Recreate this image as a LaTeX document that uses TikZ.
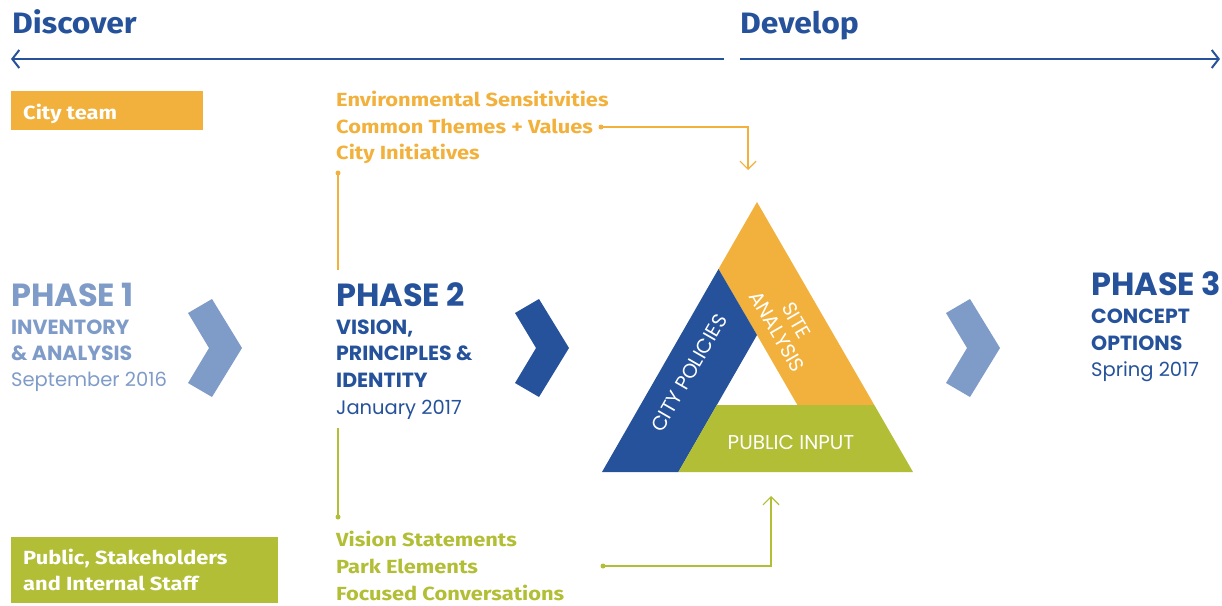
\documentclass[tikz,border=0pt]{standalone}
\usepackage{fontspec}
\setmainfont{Poppins}
\newfontfamily\headfont{Fira Sans}[FakeStretch=1.15]
\newfontfamily\stagefont{Fira Sans}[FakeStretch=1.08]
\usetikzlibrary{arrows.meta}

\definecolor{darkblue}{HTML}{25529A}
\definecolor{paleblue}{HTML}{7F9BC8}
\definecolor{siteorange}{HTML}{F2B13C}
\definecolor{inputgreen}{HTML}{B2BE35}

\begin{document}
\begin{tikzpicture}[x=1pt,y=-1pt,
	txt/.style={anchor=base west,inner sep=0pt},
	stage/.style={txt,font=\stagefont\fontsize{29.5}{29.5}\selectfont\bfseries,darkblue},
	phase/.style={txt,font=\fontsize{32}{32}\selectfont\bfseries},
	caps/.style={txt,font=\fontsize{20.5}{20.5}\selectfont\bfseries},
	date/.style={txt,font=\fontsize{19.5}{19.5}\selectfont},
	item/.style={txt,font=\headfont\fontsize{19}{19}\selectfont\bfseries},
	band/.style={white,font=\fontsize{20}{22}\selectfont,inner sep=0pt},
	timeline/.style={darkblue,line width=2pt},
	link/.style={line width=1.2pt},
	dot/.style={circle,fill,inner sep=0pt,minimum size=5pt}]
	\useasboundingbox (0,0) rectangle (1222,605);

	% timeline
	\node[stage] (discover) at (12,33) {Discover};
	\node[stage] (develop) at (740,33) {Develop};
	\coordinate (discL) at (11,59);
	\coordinate (discR) at (724,59);
	\coordinate (devL) at (740,59);
	\coordinate (devR) at (1220,59);
	\draw[timeline,{Straight Barb[length=7pt,width=18pt]}-] (discL) -- (discR);
	\draw[timeline,-{Straight Barb[length=7pt,width=18pt]}] (devL) -- (devR);

	% legend boxes
	\fill[siteorange] (11,91) rectangle (203,130);
	\node[item,white] (cityteam) at (23,119) {City team};
	\fill[inputgreen] (11,537) rectangle (278,603);
	\node[item,white] (public) at (23,564) {Public, Stakeholders};
	\node[item,white] (staff) at (23,590) {and Internal Staff};

	% phase 1
	\node[phase,paleblue] (ph1) at (11,306) {PHASE 1};
	\node[caps,paleblue] (ph1a) at (11,334) {INVENTORY};
	\node[caps,paleblue] (ph1b) at (11,360) {\& ANALYSIS};
	\node[date,paleblue] (ph1c) at (11,386) {September 2016};

	% phase 2
	\node[phase,darkblue] (ph2) at (336,306) {PHASE 2};
	\node[caps,darkblue] (ph2a) at (336,334) {VISION,};
	\node[caps,darkblue] (ph2b) at (336,360) {PRINCIPLES \&};
	\node[caps,darkblue] (ph2c) at (336,387) {IDENTITY};
	\node[date,darkblue] (ph2d) at (336,414) {January 2017};

	% phase 3
	\node[phase,darkblue] (ph3) at (1091,295) {PHASE 3};
	\node[caps,darkblue] (ph3a) at (1091,323) {CONCEPT};
	\node[caps,darkblue] (ph3b) at (1091,350) {OPTIONS};
	\node[date,darkblue] (ph3c) at (1091,376) {Spring 2017};

	% chevrons
	\foreach \dx/\col in {0/paleblue,327/darkblue,758/paleblue}
		\fill[\col,xshift=\dx] (188,313) -- (212,299) -- (242,348) -- (212,397) -- (188,383) -- (209,348) -- cycle;

	% triangle
	\coordinate (apex) at (757,202);
	\coordinate (bl) at (602,472);
	\coordinate (br) at (913,472);
	\coordinate (ia) at (757,335);
	\coordinate (ibl) at (716.8,405);
	\coordinate (ibr) at (797.4,405);
	\coordinate (ol) at (718.5,269);
	\coordinate (or) at (874.3,405);
	\coordinate (ob) at (678.4,472);
	\fill[siteorange] (apex) -- (or) -- (ibr) -- (ia) -- (ol) -- cycle;
	\fill[darkblue] (ol) -- (ia) -- (ob) -- (bl) -- cycle;
	\fill[inputgreen] (ibl) -- (or) -- (br) -- (ob) -- cycle;
	\node[band,rotate=60] (policies) at (689,373) {CITY POLICIES};
	\node[band,rotate=-60,align=center] (site) at (787,326) {SITE\\ANALYSIS};
	\node[band] (input) at (791,443) {PUBLIC INPUT};

	% city team inputs
	\node[item,siteorange] (env) at (336,106) {Environmental Sensitivities};
	\node[item,siteorange] (themes) at (336,133) {Common Themes + Values};
	\node[item,siteorange] (initiatives) at (336,159) {City Initiatives};
	\node[dot,siteorange] (themesdot) at (601,127) {};
	\coordinate (siteend) at (748,170);
	\draw[link,siteorange,-{Straight Barb[length=8pt,width=16pt]}] (themesdot.center) -| (siteend);
	\node[dot,siteorange] (citydot) at (338,173) {};
	\coordinate (ph2top) at (338,270);
	\draw[link,siteorange] (citydot.center) -- (ph2top);

	% public inputs
	\node[item,inputgreen] (vision) at (336,546) {Vision Statements};
	\node[item,inputgreen] (park) at (336,573) {Park Elements};
	\node[item,inputgreen] (focus) at (336,600) {Focused Conversations};
	\coordinate (ph2bot) at (338,428);
	\node[dot,inputgreen] (visiondot) at (338,517) {};
	\draw[link,inputgreen] (ph2bot) -- (visiondot.center);
	\node[dot,inputgreen] (parkdot) at (603,566) {};
	\coordinate (inputend) at (771,496);
	\draw[link,inputgreen,-{Straight Barb[length=8pt,width=16pt]}] (parkdot.center) -| (inputend);
\end{tikzpicture}
\end{document}
